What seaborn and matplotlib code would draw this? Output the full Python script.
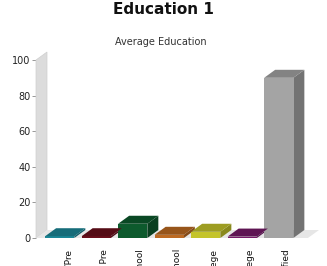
import matplotlib
matplotlib.use("Agg")
import matplotlib.pyplot as plt
from matplotlib.patches import Polygon
import matplotlib.colors as mcolors
import seaborn as sns
import pandas as pd
import numpy as np

categories = ["None/Pre", "Some Pre", "High School", "Some High School",
              "College", "Some College", "Not Specified"]
values = [1, 1, 8, 1.8, 3.5, 0.8, 90]
colors = ["#1b8797", "#6a0f1c", "#0d5a2d", "#bd6a22", "#c4c42a", "#751a68", "#a4a4a4"]
yticks = [0, 20, 40, 60, 80, 100]

df = pd.DataFrame({"cat": categories, "val": values})

sns.set_style("white")
plt.rcParams['font.family'] = ['DejaVu Sans']

W, H = 327, 266
fig = plt.figure(figsize=(W / 100, H / 100), dpi=100)
ax_l, ax_r, ax_b, ax_t = 36, 297, 238, 60
ax = fig.add_axes([ax_l / W, (H - ax_b) / H, (ax_r - ax_l) / W, (ax_b - ax_t) / H])

xlo, xhi = -0.65, 6.5
sns.barplot(data=df, x="cat", y="val", hue="cat", palette=colors, legend=False,
            width=0.8, ax=ax, saturation=1, edgecolor="none", zorder=3)
ax.set_xlim(xlo, xhi)
ax.set_ylim(0, 100)

# depth offsets in data units
dx_px, dy_px = 11, 8
dxd = dx_px / ((ax_r - ax_l) / (xhi - xlo))
dyd = dy_px / ((ax_b - ax_t) / 100.0)

# left wall and floor
wall = Polygon([(xlo, 0), (xlo + dxd, dyd), (xlo + dxd, 100 + dyd), (xlo, 100)],
               closed=True, facecolor="#dcdcdc", edgecolor="#cfcfcf", lw=0.5,
               clip_on=False, zorder=1)
ax.add_patch(wall)
floor = Polygon([(xlo, 0), (xlo + dxd, dyd), (xhi + 0.3 + dxd, dyd), (xhi + 0.3, 0)],
                closed=True, facecolor="#e6e6e6", edgecolor="none",
                clip_on=False, zorder=1)
ax.add_patch(floor)

def shade(c, f):
    r, g, b = mcolors.to_rgb(c)
    return (r * f, g * f, b * f)

for p, c in zip(ax.patches[:], colors):
    if p in (wall, floor):
        continue
    x0 = p.get_x()
    x1 = x0 + p.get_width()
    h = p.get_height()
    top = Polygon([(x0, h), (x1, h), (x1 + dxd, h + dyd), (x0 + dxd, h + dyd)],
                  closed=True, facecolor=shade(c, 0.8), edgecolor="none",
                  clip_on=False, zorder=3)
    side = Polygon([(x1, 0), (x1 + dxd, dyd), (x1 + dxd, h + dyd), (x1, h)],
                   closed=True, facecolor=shade(c, 0.7), edgecolor="none",
                   clip_on=False, zorder=2.9)
    ax.add_patch(side)
    ax.add_patch(top)

for s in ax.spines.values():
    s.set_visible(False)

ax.set_yticks(yticks)
ax.set_yticklabels([str(v) for v in yticks], fontsize=7, color="#222222")
ax.tick_params(axis="y", left=True, length=3, width=0.6, color="#888888", pad=1)
ax.set_xticks([i + 0.22 for i in range(len(categories))])
ax.set_xticklabels(categories, rotation=90, fontsize=6.5, color="#111111")
ax.tick_params(axis="x", bottom=False, length=0, pad=8)
ax.set_xlabel("")
ax.set_ylabel("")

fig.text(163 / W, 1 - 9.5 / H, "Education 1", ha="center", va="center",
         fontsize=11, fontweight="bold", color="#111111")
fig.text(161 / W, 1 - 42 / H, "Average Education", ha="center", va="center",
         fontsize=7, color="#333333")

fig.savefig("out.png", dpi=100)
